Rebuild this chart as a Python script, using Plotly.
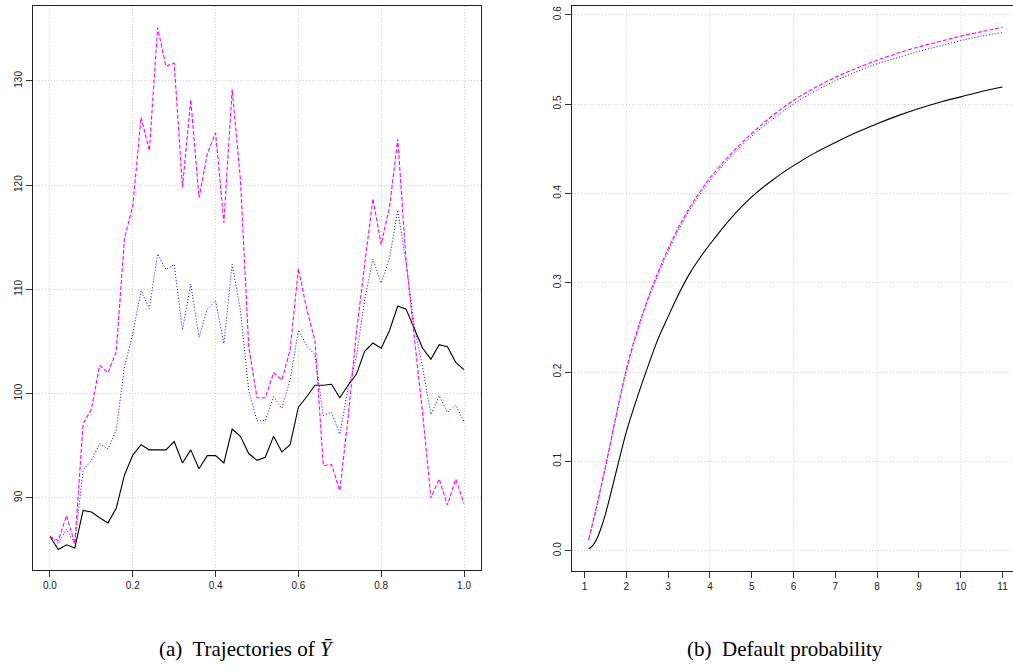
import plotly.graph_objects as go

# ---------------- Data ----------------
# (a) Trajectories of Y-bar, time grid 0..1 step 0.02
t = [round(i * 0.02, 2) for i in range(51)]
traj_black = [86.3, 85.05, 85.5, 85.2, 88.8, 88.65, 88.1, 87.6, 89.0, 92.2,
              94.1, 95.1, 94.6, 94.6, 94.6, 95.4, 93.35, 94.6, 92.8, 94.05,
              94.05, 93.35, 96.6, 95.9, 94.25, 93.6, 93.9, 95.9, 94.4, 95.1,
              98.7, 99.7, 100.8, 100.8, 100.9, 99.6, 100.8, 101.85, 104.05, 104.85,
              104.35, 106.05, 108.4, 108.1, 106.2, 104.35, 103.3, 104.7, 104.5, 103.0,
              102.3]
traj_magenta = [86.3, 85.9, 88.3, 85.6, 97.1, 98.5, 102.7, 102.0, 104.0, 114.9,
                118.0, 126.5, 123.3, 135.1, 131.4, 131.7, 119.8, 128.2, 118.8, 123.0,
                125.0, 116.4, 129.2, 120.5, 104.5, 99.6, 99.6, 102.0, 101.3, 104.2,
                112.0, 108.1, 105.1, 93.1, 93.2, 90.7, 97.7, 105.8, 112.4, 118.7,
                114.3, 117.9, 124.4, 112.8, 105.4, 98.1, 90.0, 91.8, 89.3, 91.8,
                89.45]
traj_blue = [86.3, 85.6, 87.0, 85.6, 92.65, 93.6, 95.2, 94.7, 96.5, 102.6,
             105.75, 109.9, 108.15, 113.4, 111.9, 112.4, 106.1, 110.5, 105.4, 108.1,
             108.9, 104.8, 112.4, 108.0, 100.3, 97.4, 97.4, 99.7, 98.6, 101.3,
             106.1, 104.6, 103.7, 97.9, 98.2, 96.1, 100.5, 103.5, 109.0, 112.9,
             110.6, 113.0, 117.6, 112.5, 106.5, 102.5, 98.0, 99.8, 98.2, 98.9,
             97.3]

# (b) Default probability
T_black = [1.1, 1.2, 1.3, 1.4, 1.5, 1.75, 2.0, 2.25, 2.5, 2.75, 3.0, 3.25, 3.5, 3.75,
           4.0, 4.5, 5.0, 5.5, 6.0, 6.5, 7.0, 7.5, 8.0, 8.5, 9.0, 9.5, 10.0, 10.5, 11.0]
dp_black = [0.002, 0.006, 0.014, 0.026, 0.041, 0.087, 0.133, 0.170, 0.204, 0.236,
            0.262, 0.287, 0.309, 0.327, 0.343, 0.372, 0.396, 0.415, 0.431, 0.445,
            0.457, 0.468, 0.478, 0.487, 0.495, 0.502, 0.508, 0.514, 0.519]

T_other = [1.1, 1.25, 1.5, 1.75, 2.0, 2.25, 2.5, 2.75, 3.0, 3.25, 3.5, 3.75, 4.0,
           4.5, 5.0, 5.5, 6.0, 6.5, 7.0, 7.5, 8.0, 8.5, 9.0, 9.5, 10.0, 10.5, 11.0]
dp_magenta = [0.013, 0.042, 0.094, 0.150, 0.203, 0.245, 0.280, 0.311, 0.338, 0.362,
              0.383, 0.401, 0.417, 0.444, 0.467, 0.487, 0.504, 0.518, 0.530, 0.540,
              0.549, 0.557, 0.564, 0.570, 0.576, 0.581, 0.586]
dp_blue = [0.012, 0.041, 0.093, 0.149, 0.201, 0.243, 0.278, 0.308, 0.335, 0.359,
           0.380, 0.398, 0.414, 0.441, 0.464, 0.483, 0.500, 0.514, 0.526, 0.536,
           0.545, 0.552, 0.559, 0.565, 0.571, 0.576, 0.580]

left_xticks = [0.0, 0.2, 0.4, 0.6, 0.8, 1.0]
left_xticklabels = ["0.0", "0.2", "0.4", "0.6", "0.8", "1.0"]
left_yticks = [90, 100, 110, 120, 130]
right_xticks = list(range(1, 12))
right_xgrid = [2, 4, 6, 8, 10]
right_yticks = [0.0, 0.1, 0.2, 0.3, 0.4, 0.5, 0.6]
right_yticklabels = ["0.0", "0.1", "0.2", "0.3", "0.4", "0.5", "0.6"]

captions = ["(a)  Trajectories of <i>Ȳ</i>", "(b)  Default probability"]

# ---------------- Figure ----------------
W, H = 1013, 671
fig = go.Figure()

MAG = "#FF00FF"
BLU = "#0000FF"
GRID = "#D0D0D0"
GRIDDASH = "1px,2px"

fig.add_trace(go.Scatter(x=t, y=traj_black, mode="lines", line=dict(color="black", width=1.1),
                         xaxis="x", yaxis="y", showlegend=False))
fig.add_trace(go.Scatter(x=t, y=traj_blue, mode="lines", line=dict(color=BLU, width=1, dash="1px,2px"),
                         xaxis="x", yaxis="y", showlegend=False))
fig.add_trace(go.Scatter(x=t, y=traj_magenta, mode="lines", line=dict(color=MAG, width=1.1, dash="4px,2px"),
                         xaxis="x", yaxis="y", showlegend=False))

fig.add_trace(go.Scatter(x=T_black, y=dp_black, mode="lines", line=dict(color="black", width=1.1, shape="spline"),
                         xaxis="x2", yaxis="y2", showlegend=False))
fig.add_trace(go.Scatter(x=T_other, y=dp_blue, mode="lines", line=dict(color=BLU, width=1, dash="1px,2px", shape="spline"),
                         xaxis="x2", yaxis="y2", showlegend=False))
fig.add_trace(go.Scatter(x=T_other, y=dp_magenta, mode="lines", line=dict(color=MAG, width=1.1, dash="4px,2px", shape="spline"),
                         xaxis="x2", yaxis="y2", showlegend=False))

tickfont = dict(family="Liberation Sans, Arial, sans-serif", size=10, color="#222222")
axis_common = dict(ticks="outside", ticklen=6, tickwidth=1, tickcolor="#333333",
                   showline=True, linecolor="#222222", linewidth=1.3, zeroline=False,
                   tickfont=tickfont, automargin=False, gridcolor=GRID, griddash=GRIDDASH, gridwidth=1)

fig.update_layout(
    xaxis=dict(domain=[33 / W, 481 / W], range=[-0.041, 1.041], anchor="y",
               tickvals=left_xticks, ticktext=left_xticklabels, mirror=True, showgrid=True, **axis_common),
    yaxis=dict(domain=[1 - 570 / H, 1 - 6 / H], range=[83.08, 137.18], anchor="x",
               tickvals=left_yticks, tickangle=-90, mirror=True, showgrid=True, **axis_common),
    xaxis2=dict(domain=[572 / W, 1.0], range=[0.70, 11.25], anchor="y2",
                tickvals=right_xticks, mirror=True, showgrid=False, **axis_common),
    yaxis2=dict(domain=[1 - 570.7 / H, 1 - 6 / H], range=[-0.0224, 0.6097], anchor="x2",
                tickvals=right_yticks, ticktext=right_yticklabels, tickangle=-90, mirror=False,
                showgrid=True, **axis_common),
)

# vertical grid of panel (b) sits at the default pretty positions (every 2)
for gx in right_xgrid:
    fig.add_shape(type="line", xref="x2", yref="y2 domain", x0=gx, x1=gx, y0=0, y1=1,
                  layer="below", line=dict(color=GRID, width=1, dash=GRIDDASH))

for txt, cx in zip(captions, [246, 785]):
    fig.add_annotation(text=txt, x=cx / W, y=1 - 649 / H, xref="paper", yref="paper",
                       showarrow=False, xanchor="center", yanchor="middle",
                       font=dict(family="Liberation Serif, Times New Roman, serif", size=21, color="black"))

fig.update_layout(width=W, height=H, margin=dict(l=0, r=0, t=0, b=0),
                  paper_bgcolor="white", plot_bgcolor="white")

fig.write_html("out.html")
